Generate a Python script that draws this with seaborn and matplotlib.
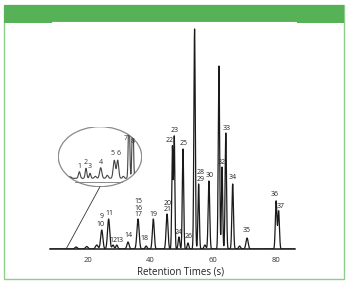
import numpy as np
import pandas as pd
import matplotlib
matplotlib.use("Agg")
import matplotlib.pyplot as plt
import seaborn as sns
from matplotlib.patches import Ellipse, Rectangle, ConnectionPatch
from matplotlib.lines import Line2D

# ---------------- data ----------------
peak_rt = [16.2, 19.6, 22.8, 24.4, 26.6, 28.0, 29.2, 32.8, 36.0, 38.6, 40.9,
           45.3, 47.0, 47.6, 49.1, 50.4, 52.0, 54.1, 55.4, 57.4, 58.7,
           61.9, 62.9, 64.1, 66.3, 68.5, 70.9, 80.2, 81.0]
peak_h = [2, 2.5, 4, 19, 30, 4, 4, 7, 30, 3, 30,
          35, 102, 112, 12, 100, 6, 220, 65, 4, 68,
          183, 82, 116, 65, 3, 11, 48, 38]
peak_w = [0.4, 0.4, 0.4, 0.35, 0.35, 0.3, 0.3, 0.35, 0.35, 0.3, 0.3,
          0.3, 0.2, 0.2, 0.25, 0.22, 0.25, 0.22, 0.22, 0.3, 0.25,
          0.22, 0.2, 0.22, 0.25, 0.3, 0.35, 0.25, 0.25]

peak_labels = ["9", "10", "11", "12", "13", "14", "15", "16", "17", "18", "19",
               "20", "21", "22", "23", "24", "25", "26", "28", "29", "30",
               "32", "33", "34", "35", "36", "37"]
label_rt = [24.4, 24.1, 26.7, 28.0, 30.2, 32.9, 36.0, 36.0, 36.0, 38.2, 40.9,
            45.4, 45.4, 46.2, 47.8, 49.1, 50.7, 52.1, 56.1, 56.1, 58.8,
            62.8, 64.4, 66.3, 70.8, 79.8, 81.7]
label_h = [32, 25, 35.3, 8.3, 8.3, 13.7, 47.3, 40.7, 35, 10.7, 34.7,
           45.7, 39.7, 108.3, 118.3, 16.3, 105.7, 13, 76.3, 69.7, 73.3,
           86.3, 120.7, 71.7, 19, 54, 43]

# inset (magnified early region)
inset_pos = [12, 21, 27.7, 31.7, 37, 42.4, 49, 56, 59.4, 65, 70.7, 74.4]
inset_h = [1.5, 6.6, 10, 5, 2, 10.6, 3, 18, 18, 2, 70, 70]
inset_w = [1.0, 0.9, 0.8, 0.8, 1.0, 1.1, 1.0, 1.1, 1.0, 0.8, 0.7, 0.7]
inset_labels = ["1", "2", "3", "4", "5", "6", "7", "8"]
inset_lx = [21, 27.7, 31.7, 42.4, 54, 60.4, 67.4, 74.4]
inset_ly = [11.6, 16, 11.6, 16, 25, 25, 39.3, 36.6]

x_ticks = [20, 40, 60, 80]
x_title = "Retention Times (s)"

# ---------------- build traces ----------------
rt = np.arange(7.84, 86.25, 0.01)
sig = np.zeros_like(rt)
for c, h, w in zip(peak_rt, peak_h, peak_w):
    sig += h * np.exp(-0.5 * ((rt - c) / w) ** 2)
df = pd.DataFrame({"rt": rt, "signal": sig})

ix = np.arange(0, 83.4, 0.05)
isig = np.zeros_like(ix)
for c, h, w in zip(inset_pos, inset_h, inset_w):
    isig += h * np.exp(-0.5 * ((ix - c) / w) ** 2)
dfi = pd.DataFrame({"x": ix, "signal": isig})

# ---------------- figure ----------------
sns.set_style("white")
plt.rcParams["font.family"] = ["Open Sans", "DejaVu Sans"]

W, H = 350, 282
fig = plt.figure(figsize=(W / 100, H / 100), dpi=100)

def fx(x):
    return x / W

def fy(y):
    return 1 - y / H

green = "#57b257"
# outer frame
fig.add_artist(Rectangle((fx(3.5), fy(279)), fx(340.5), (279 - 5) / H,
                         transform=fig.transFigure, fill=False,
                         edgecolor="#8ccf8c", lw=1.0))
# header band
fig.add_artist(Rectangle((fx(3.5), fy(23)), fx(340.5), (23 - 5) / H,
                         transform=fig.transFigure, facecolor=green,
                         edgecolor="none"))
fig.add_artist(Line2D([fx(52), fx(296)], [fy(22.2), fy(22.2)],
                      transform=fig.transFigure, color="white", lw=0.8))

# main axes
ax = fig.add_axes([fx(50), fy(249), fx(295) - fx(50), (249 - 24) / H])
sns.lineplot(data=df, x="rt", y="signal", ax=ax, color="#1a1a1a", lw=0.9,
             estimator=None, sort=False, errorbar=None)
ax.set_xlim(7.84, 86.24)
ax.set_ylim(0, 225)
for s in ["top", "right", "left"]:
    ax.spines[s].set_visible(False)
ax.spines["bottom"].set_color("#1a1a1a")
ax.spines["bottom"].set_linewidth(1.1)
ax.set_yticks([])
ax.set_xticks(x_ticks)
ax.set_xticklabels([str(t) for t in x_ticks])
ax.tick_params(axis="x", direction="out", length=3, width=0.8, pad=3,
               labelsize=5.5, colors="#333333")
ax.set_ylabel("")
ax.set_xlabel(x_title, fontsize=7, color="#222222")
ax.xaxis.label.set_va("center")
ax.xaxis.set_label_coords((181 - 50) / 245, -23 / 225)
ax.patch.set_visible(False)

for t, x, y in zip(peak_labels, label_rt, label_h):
    ax.text(x, y, t, fontsize=5, ha="center", va="center", color="#222222")

# inset
iax = fig.add_axes([fx(58.3), fy(186.7), 83.4 / W, 60 / H])
iax.set_xlim(0, 83.4)
iax.set_ylim(-8.4, 51.6)
iax.axis("off")
ell = Ellipse((0.5, 0.5), 1, 1, transform=iax.transAxes, facecolor="white",
              edgecolor="#8a8a8a", lw=0.9, zorder=1)
iax.add_patch(ell)
sns.lineplot(data=dfi, x="x", y="signal", ax=iax, color="#444444", lw=0.8,
             estimator=None, sort=False, errorbar=None)
for ln in iax.lines:
    ln.set_clip_path(ell)
    ln.set_zorder(2)
iax.plot([16.7, 63.4], [-3.4, -3.4], color="#777777", lw=0.6, zorder=2)
for t, x, y in zip(inset_labels, inset_lx, inset_ly):
    iax.text(x, y, t, fontsize=5, ha="center", va="center", color="#333333",
             zorder=3)

con = ConnectionPatch(xyA=(0.5, 0.0), coordsA=iax.transAxes,
                      xyB=(13.0, 0.0), coordsB=ax.transData,
                      color="#333333", lw=0.6)
fig.add_artist(con)

fig.savefig("out.png", dpi=100)
